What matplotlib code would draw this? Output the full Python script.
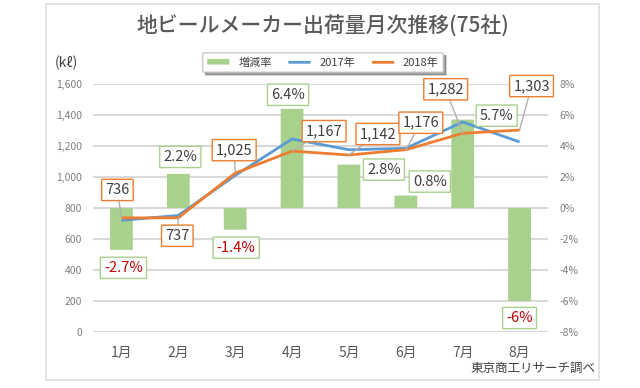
import matplotlib
matplotlib.use("Agg")
import matplotlib.pyplot as plt
from matplotlib.patches import Rectangle
import numpy as np

plt.rcParams['font.family'] = ['Noto Sans CJK JP', 'DejaVu Sans']
plt.rcParams['path.snap'] = False

# ---- data ----
months = ['1月', '2月', '3月', '4月', '5月', '6月', '7月', '8月']
vol_2017 = [720, 752, 1010, 1245, 1176, 1185, 1355, 1226]
vol_2018 = [736, 737, 1025, 1167, 1142, 1176, 1282, 1303]
rate = [-2.7, 2.2, -1.4, 6.4, 2.8, 0.8, 5.7, -6.0]
rate_labels = ['-2.7%', '2.2%', '-1.4%', '6.4%', '2.8%', '0.8%', '5.7%', '-6%']
vol_labels = ['736', '737', '1,025', '1,167', '1,142', '1,176', '1,282', '1,303']
left_ticks = [0, 200, 400, 600, 800, 1000, 1200, 1400, 1600]
right_ticks = [-8, -6, -4, -2, 0, 2, 4, 6, 8]

# label offsets (pixels, x right / y up)
vol_off = [(-4, 28), (-1, -18), (-1, 23), (32, 20), (29, 21), (15, 27), (-17, 44), (12, 44)]
rate_off = [(2, -18), (2, 17), (1, -18), (-4, 14), (35, -5), (24, 14), (34, 4), (0, -17)]

GREEN = '#A9D18E'
BLUE = '#5B9BD5'
ORANGE = '#ED7D31'
TXT = '#404040'
RED = '#C00000'
GRID = '#D9D9D9'

fig = plt.figure(figsize=(6.4, 3.88), dpi=100)
fig.patch.set_facecolor('white')
fig.patches.append(Rectangle((46 / 640, 1 - 380 / 388), (599 - 46) / 640, (380 - 4) / 388,
                             transform=fig.transFigure, fill=False, edgecolor='#D9D9D9', lw=1))

ax = fig.add_axes([93 / 640, 1 - 332 / 388, (548 - 93) / 640, (332 - 84) / 388])
x = np.arange(len(months))

ax.set_ylim(-8, 8)
ax.set_xlim(-0.5, len(months) - 0.5)
ax.hlines(right_ticks, -0.5, len(months) - 0.5, colors=GRID, linewidths=1.5, zorder=0.5)

# bars on primary axis (percent, right side)
ax.bar(x, rate, width=0.4, color=GREEN, zorder=2, label='増減率')
ax.set_yticks(right_ticks)
ax.set_yticklabels([f'{t}%' for t in right_ticks])
ax.set_xticks(x)
ax.set_xticklabels(months)
ax.tick_params(axis='x', length=0, pad=10, labelsize=10, labelcolor='#595959')
for s in ax.spines.values():
    s.set_visible(False)

ax2 = ax.twinx()
# lines on twin axis (volume, left side)
ax2.plot(x, vol_2017, color=BLUE, lw=2, label='2017年', zorder=3, solid_capstyle='butt')
ax2.plot(x, vol_2018, color=ORANGE, lw=2, label='2018年', zorder=3, solid_capstyle='butt')
ax2.set_ylim(0, 1600)
ax2.set_yticks(left_ticks)
ax2.set_yticklabels([f'{t:,}' for t in left_ticks])
for s in ax2.spines.values():
    s.set_visible(False)
ax2.patch.set_visible(False)

# axis sides (after twinx)
ax.yaxis.tick_right()
ax2.yaxis.tick_left()
ax.tick_params(axis='y', which='both', left=False, right=False, labelleft=False, labelright=True,
               length=0, pad=8.5, labelsize=7.5, labelcolor='#7F7F7F')
ax2.tick_params(axis='y', which='both', left=False, right=False, labelleft=True, labelright=False,
                length=0, pad=8, labelsize=7.5, labelcolor='#7F7F7F')

# volume labels (2018)
for i in range(len(months)):
    ax2.annotate(vol_labels[i], xy=(x[i], vol_2018[i]), xycoords=ax2.transData,
                 xytext=vol_off[i], textcoords='offset pixels', ha='center', va='center',
                 fontsize=10.5, color=TXT, zorder=5,
                 bbox=dict(boxstyle='square,pad=0.25', fc='white', ec=ORANGE, lw=1),
                 arrowprops=dict(arrowstyle='-', color='#B0B0B0', lw=1.0, shrinkA=0, shrinkB=0))

# rate labels
for i in range(len(months)):
    col = RED if rate[i] < 0 else TXT
    ax2.annotate(rate_labels[i], xy=(x[i], rate[i]), xycoords=ax.transData,
                 xytext=rate_off[i], textcoords='offset pixels', ha='center', va='center',
                 fontsize=10.5, color=col, zorder=5,
                 bbox=dict(boxstyle='square,pad=0.25', fc='white', ec=GREEN, lw=1))

# legend
h1, l1 = ax.get_legend_handles_labels()
h2, l2 = ax2.get_legend_handles_labels()
leg = fig.legend(h1 + h2, l1 + l2, loc='center', bbox_to_anchor=(323 / 640, 1 - 62.5 / 388),
                 ncol=3, fontsize=8, frameon=True, fancybox=False, shadow=True,
                 handlelength=2.0, handleheight=0.4, columnspacing=1.5, borderpad=0.4,
                 labelcolor='#404040')
leg.get_frame().set_edgecolor('#BFBFBF')
leg.get_frame().set_linewidth(0.8)

# titles and texts
fig.text(323 / 640, 1 - 27 / 388, '地ビールメーカー出荷量月次推移(75社)', ha='center', va='center',
         fontsize=15, color='#595959', fontweight='medium')
fig.text(55 / 640, 1 - 63 / 388, '(kℓ)', ha='left', va='center', fontsize=10, color=TXT)
fig.text(595 / 640, 1 - 368 / 388, '東京商工リサーチ調べ', ha='right', va='center', fontsize=9, color=TXT)

fig.savefig('out.png', dpi=100, facecolor='white')
